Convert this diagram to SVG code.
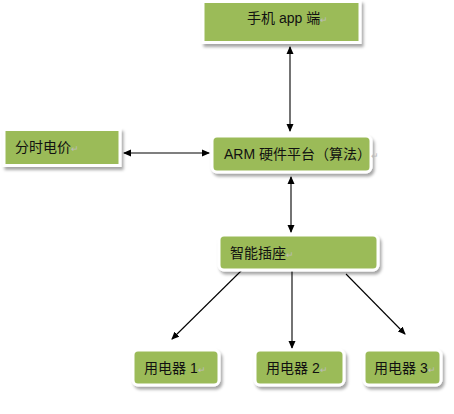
<svg xmlns="http://www.w3.org/2000/svg" width="454" height="414" viewBox="0 0 454 414">
<defs>
<filter id="sh" x="-10%" y="-20%" width="125%" height="150%">
<feDropShadow dx="2" dy="3" stdDeviation="1.5" flood-color="#000" flood-opacity="0.35"/>
</filter>
<marker id="ah" markerWidth="8" markerHeight="8" refX="7" refY="4" orient="auto-start-reverse" markerUnits="userSpaceOnUse">
<path d="M0,0.5 L8,4 L0,7.5 z" fill="#000"/>
</marker>
</defs>
<style>
.box{fill:#9BBB59;stroke:#fff;stroke-width:3;filter:url(#sh)}
.t{font-family:"Liberation Sans","Noto Sans CJK SC",sans-serif;font-size:14px;fill:#111}
.pm{fill:#bbb;font-size:9px}
.c{stroke:#000;stroke-width:1.1;fill:none;marker-end:url(#ah)}
.b{marker-start:url(#ah)}
</style>
<rect width="454" height="414" fill="#fff"/>
<g id="connectors">
<line class="c b" x1="290" y1="47" x2="290" y2="131"/>
<line class="c b" x1="124" y1="153" x2="209" y2="153"/>
<line class="c b" x1="291" y1="177" x2="291" y2="232"/>
<line class="c" x1="243" y1="269" x2="172" y2="339"/>
<line class="c" x1="292" y1="270" x2="292" y2="348"/>
<line class="c" x1="346" y1="274" x2="405" y2="334"/>
</g>
<g id="phone">
<rect class="box" x="203" y="1.5" width="157" height="41"/>
<text class="t" x="247" y="23">手机 app 端<tspan class="pm">↵</tspan></text>
</g>
<g id="tou">
<rect class="box" x="4" y="129.5" width="116" height="36"/>
<text class="t" x="15" y="152">分时电价<tspan class="pm">↵</tspan></text>
</g>
<g id="arm">
<rect class="box" x="212" y="136" width="159" height="36" rx="5"/>
<text class="t" x="224" y="159">ARM 硬件平台（算法）<tspan class="pm">↵</tspan></text>
</g>
<g id="socket">
<rect class="box" x="219" y="235" width="159" height="35" rx="5"/>
<text class="t" x="230" y="258">智能插座<tspan class="pm">↵</tspan></text>
</g>
<g id="dev1">
<rect class="box" x="133" y="350" width="86" height="35" rx="5"/>
<text class="t" x="144" y="373">用电器 1<tspan class="pm">↵</tspan></text>
</g>
<g id="dev2">
<rect class="box" x="255" y="350" width="89" height="35" rx="5"/>
<text class="t" x="266" y="373">用电器 2<tspan class="pm">↵</tspan></text>
</g>
<g id="dev3">
<rect class="box" x="364" y="350" width="77" height="35" rx="5"/>
<text class="t" x="374" y="373">用电器 3<tspan class="pm">↵</tspan></text>
</g>
</svg>
